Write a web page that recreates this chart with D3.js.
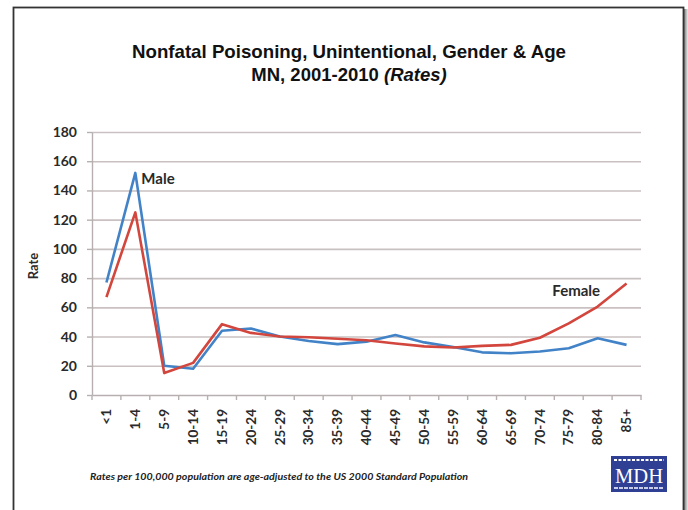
<!DOCTYPE html>
<html>
<head>
<meta charset="utf-8">
<script src="https://cdn.jsdelivr.net/npm/d3@7"></script>
<style>
  body { margin: 0; background: #ffffff; }
  svg { display: block; }
</style>
</head>
<body>
<div id="chart"></div>
<script>
// age groups on x axis
var ageGroups = ["<1", "1-4", "5-9", "10-14", "15-19", "20-24", "25-29", "30-34", "35-39", "40-44",
  "45-49", "50-54", "55-59", "60-64", "65-69", "70-74", "75-79", "80-84", "85+"];
// rates per 100,000
var maleRates = [77, 152, 20, 18, 44, 45.5, 40, 37, 34.8, 36.5, 41, 36, 32.8, 29.2, 28.6, 29.8, 32, 38.8, 34.3];
var femaleRates = [67, 125, 15, 22, 48.5, 42.5, 40, 39.5, 38.5, 37.5, 35.3, 33.3, 32.5, 33.6, 34.3, 39.2, 49, 60.5, 76.3];
var yTicks = [0, 20, 40, 60, 80, 100, 120, 140, 160, 180];

var titleLine1 = "Nonfatal Poisoning, Unintentional, Gender & Age";
var footnote = "Rates per 100,000 population are age-adjusted to the US 2000 Standard Population";

const width = 688;
const height = 510;
var plotLeft = 92, plotRight = 641, plotTop = 132, plotBottom = 395;

var svg = d3.select("#chart").append("svg")
  .attr("width", width)
  .attr("height", height);

// page frame with a bit of shadow on the right
var defs = svg.append("defs");
var grad = defs.append("linearGradient").attr("id", "shadow").attr("x1", 0).attr("x2", 1).attr("y1", 0).attr("y2", 0);
grad.append("stop").attr("offset", "0%").attr("stop-color", "#777");
grad.append("stop").attr("offset", "100%").attr("stop-color", "#eee");
svg.append("rect").attr("x", 684).attr("y", 9).attr("width", 4).attr("height", height).attr("fill", "url(#shadow)");
svg.append("rect")
  .attr("x", 13.5).attr("y", 7.5)
  .attr("width", 670).attr("height", 520)
  .attr("fill", "#ffffff")
  .attr("stroke", "#333")
  .attr("stroke-width", 1.8);

var x = d3.scaleBand().domain(ageGroups).range([plotLeft, plotRight]);
var y = d3.scaleLinear().domain([0, 180]).range([plotBottom, plotTop]);

// gridlines
svg.append("g")
  .attr("transform", "translate(" + plotLeft + ",0)")
  .call(d3.axisLeft(y).tickValues(yTicks.slice(1)).tickSize(-(plotRight - plotLeft)).tickFormat(""))
  .call(g => g.select(".domain").remove())
  .call(g => g.selectAll("line").attr("stroke", "#c9c1c1").attr("stroke-width", 1.6));

// y axis
var yAxis = svg.append("g")
  .attr("transform", "translate(" + plotLeft + ",0)")
  .call(d3.axisLeft(y).tickValues(yTicks).tickSize(5).tickPadding(10).tickSizeOuter(0));
yAxis.select(".domain").attr("stroke", "#b8b0b0").attr("stroke-width", 1.4);
yAxis.selectAll("line").attr("stroke", "#b8b0b0").attr("stroke-width", 1.4);
yAxis.selectAll("text")
  .attr("fill", "#2a2a2a")
  .style("font-family", "Lato, 'Open Sans', sans-serif")
  .style("font-weight", "bold")
  .style("font-size", "14px");

// x axis line + ticks between categories (Excel style)
var xAxis = svg.append("g")
  .attr("transform", "translate(0," + plotBottom + ")")
  .call(d3.axisBottom(x).tickSize(0).tickPadding(0));
xAxis.select(".domain").attr("stroke", "#b8b0b0").attr("stroke-width", 1.4);
xAxis.selectAll("text")
  .attr("transform", "rotate(-90)")
  .attr("text-anchor", "end")
  .attr("x", -14)
  .attr("y", 0)
  .attr("dy", "0.35em")
  .attr("fill", "#2a2a2a")
  .style("font-family", "Lato, 'Open Sans', sans-serif")
  .style("font-weight", "bold")
  .style("font-size", "13.5px");
var boundaries = ageGroups.map(d => x(d)).concat([x(ageGroups[ageGroups.length - 1]) + x.bandwidth()]);
xAxis.selectAll("line.sep")
  .data(boundaries)
  .enter().append("line")
  .attr("class", "sep")
  .attr("x1", d => d).attr("x2", d => d)
  .attr("y1", 0).attr("y2", 5)
  .attr("stroke", "#b8b0b0").attr("stroke-width", 1.4);

// lines
var line = d3.line()
  .x((d, i) => x(ageGroups[i]) + x.bandwidth() / 2)
  .y(d => y(d));

svg.append("path").datum(maleRates)
  .attr("d", line)
  .attr("fill", "none")
  .attr("stroke", "#4283c8")
  .attr("stroke-width", 2.6)
  .attr("stroke-linejoin", "round");

svg.append("path").datum(femaleRates)
  .attr("d", line)
  .attr("fill", "none")
  .attr("stroke", "#d2463d")
  .attr("stroke-width", 2.6)
  .attr("stroke-linejoin", "round");

// series labels
svg.append("text")
  .attr("x", x("1-4") + x.bandwidth() / 2 + 6)
  .attr("y", y(maleRates[1]) + 11)
  .text("Male")
  .attr("fill", "#2a2a2a")
  .style("font-family", "Lato, 'Open Sans', sans-serif")
  .style("font-weight", "bold")
  .style("font-size", "15px");

svg.append("text")
  .attr("x", x("75-79") - 2)
  .attr("y", y(femaleRates[18]) + 12)
  .text("Female")
  .attr("fill", "#2a2a2a")
  .style("font-family", "Lato, 'Open Sans', sans-serif")
  .style("font-weight", "bold")
  .style("font-size", "15px");

// y label
svg.append("text")
  .attr("transform", "translate(38,266) rotate(-90)")
  .attr("text-anchor", "middle")
  .text("Rate")
  .attr("fill", "#2a2a2a")
  .style("font-family", "Lato, 'Open Sans', sans-serif")
  .style("font-weight", "bold")
  .style("font-size", "13px");

// title
var title = svg.append("text")
  .attr("text-anchor", "middle")
  .attr("fill", "#111")
  .style("font-family", "'Liberation Sans Narrow', 'Liberation Sans', Arial, sans-serif")
  .style("font-weight", "bold")
  .style("font-size", "18.5px");
title.append("tspan").attr("x", 349).attr("y", 58)
  .attr("textLength", 434).attr("lengthAdjust", "spacingAndGlyphs")
  .text(titleLine1);
var t2 = title.append("tspan").attr("x", 349).attr("y", 81);
t2.append("tspan").text("MN, 2001-2010 ");
t2.append("tspan").style("font-style", "italic").text("(Rates)");

// footnote
svg.append("text")
  .attr("x", 90)
  .attr("y", 480)
  .attr("textLength", 378)
  .attr("lengthAdjust", "spacingAndGlyphs")
  .text(footnote)
  .attr("fill", "#222")
  .style("font-family", "Lato, 'Open Sans', sans-serif")
  .style("font-weight", "bold")
  .style("font-style", "italic")
  .style("font-size", "10px");

// MDH logo
var logo = svg.append("g").attr("transform", "translate(611,456)");
logo.append("rect").attr("width", 56).attr("height", 36).attr("fill", "#2e3f94");
logo.append("line").attr("x1", 3).attr("x2", 53).attr("y1", 4).attr("y2", 4)
  .attr("stroke", "#ffffff").attr("stroke-width", 2).attr("stroke-dasharray", "3,1.5");
logo.append("text")
  .attr("x", 28).attr("y", 27)
  .attr("text-anchor", "middle")
  .attr("fill", "#ffffff")
  .attr("textLength", 48).attr("lengthAdjust", "spacingAndGlyphs")
  .style("font-family", "'Liberation Serif', 'DejaVu Serif', serif")
  .style("font-size", "22px")
  .text("MDH");
logo.append("line").attr("x1", 3).attr("x2", 53).attr("y1", 32).attr("y2", 32)
  .attr("stroke", "#c8cce6").attr("stroke-width", 2).attr("stroke-dasharray", "4,1");
</script>
</body>
</html>
